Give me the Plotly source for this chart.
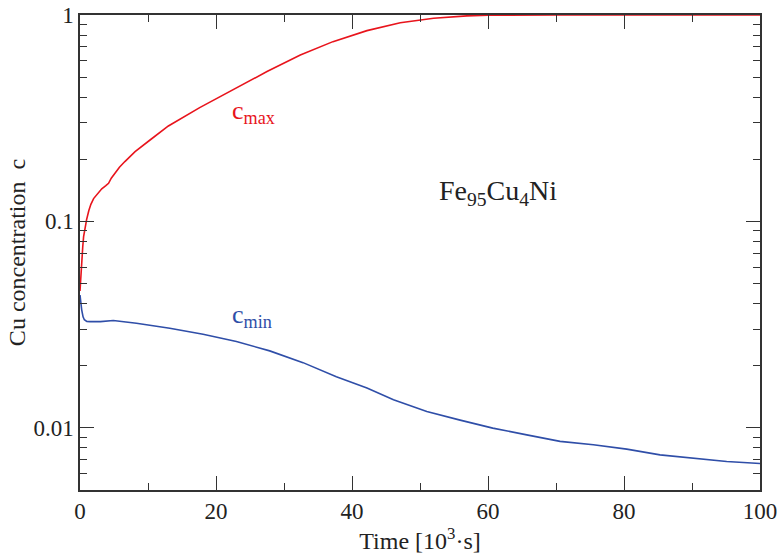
import plotly.graph_objects as go

# Data
t_max = [0, 0.05, 0.15, 0.25, 0.4, 0.53, 0.75, 0.97, 1.3, 1.6, 2.0, 2.6, 3.2, 3.8, 4.2, 4.6,
         5.1, 5.8, 6.6, 8.1, 10.3, 13, 17.6, 22.5, 27.5, 32.4, 37.2, 42.2, 47.1, 52, 56.9,
         60, 65, 70, 80, 90, 100]
c_max = [0.046, 0.05, 0.058, 0.064, 0.075, 0.0844, 0.094, 0.102, 0.113, 0.121, 0.129, 0.137,
         0.144, 0.149, 0.153, 0.162, 0.171, 0.183, 0.195, 0.218, 0.248, 0.29, 0.356, 0.433,
         0.532, 0.64, 0.743, 0.84, 0.918, 0.964, 0.99, 0.997, 1, 1, 1, 1, 1]

t_min = [0, 0.1, 0.25, 0.45, 0.64, 1.0, 1.5, 3, 4.9, 8.3, 13.2, 18.1, 23.0, 27.9, 32.8, 37.7,
         42.2, 46.1, 51.0, 55.9, 60.7, 65.7, 70.6, 75.5, 80.4, 85.3, 90.2, 95.1, 100]
c_min = [0.044, 0.040, 0.0373, 0.0345, 0.0334, 0.0328, 0.0327, 0.0327, 0.0331, 0.0321, 0.0304,
         0.0284, 0.0262, 0.0236, 0.0207, 0.0177, 0.0156, 0.0137, 0.0120, 0.0109, 0.00997,
         0.00925, 0.0086, 0.00828, 0.00789, 0.0074, 0.00713, 0.00687, 0.00672]

x_major = [0, 20, 40, 60, 80, 100]
x_minor = [10, 30, 50, 70, 90]
y_major = [0.01, 0.1, 1]
y_major_text = ["0.01", "0.1", "1"]
y_minor = [0.005, 0.006, 0.007, 0.008, 0.009,
           0.02, 0.03, 0.04, 0.05, 0.06, 0.07, 0.08, 0.09,
           0.2, 0.3, 0.4, 0.5, 0.6, 0.7, 0.8, 0.9]

RED = "#e8141c"
BLUE = "#2f4ea8"
FONT = "Liberation Serif"
TXT = "#222222"

fig = go.Figure()
fig.add_trace(go.Scatter(x=t_max, y=c_max, mode="lines",
                         line=dict(color=RED, width=1.6), showlegend=False))
fig.add_trace(go.Scatter(x=t_min, y=c_min, mode="lines",
                         line=dict(color=BLUE, width=1.6), showlegend=False))

fig.update_layout(
    width=779, height=554,
    margin=dict(l=80, r=19, t=15, b=64),
    paper_bgcolor="white", plot_bgcolor="white",
    font=dict(family=FONT, color=TXT, size=23),
    xaxis=dict(
        range=[0, 100], tickvals=x_major, ticks="inside", ticklen=14, tickwidth=1.2,
        tickcolor="#333", showline=True, linecolor="#333", linewidth=1.5, mirror="ticks",
        showgrid=False, zeroline=False, automargin=False,
        tickfont=dict(size=23, family=FONT, color=TXT),
        minor=dict(tickvals=x_minor, ticks="inside", ticklen=7, tickwidth=1.2, tickcolor="#333",
                   showgrid=False),
        title=dict(text="Time [10<sup>3</sup>·s]", font=dict(size=24, family=FONT, color=TXT),
                   standoff=4),
    ),
    yaxis=dict(
        type="log", range=[-2.30103, 0], tickvals=y_major, ticktext=y_major_text,
        ticks="inside", ticklen=14, tickwidth=1.2, tickcolor="#333",
        showline=True, linecolor="#333", linewidth=1.5, mirror="ticks",
        showgrid=False, zeroline=False, automargin=False,
        tickfont=dict(size=23, family=FONT, color=TXT),
        minor=dict(tickvals=y_minor, ticks="inside", ticklen=7, tickwidth=1.2, tickcolor="#333",
                   showgrid=False),
        title=dict(text="Cu concentration\u00a0 c", font=dict(size=24, family=FONT, color=TXT),
                   standoff=1),
    ),
    annotations=[
        dict(x=52.5, y=-0.862, xref="x", yref="y", text="Fe<sub>95</sub>Cu<sub>4</sub>Ni",
             showarrow=False, xanchor="left", yanchor="middle",
             font=dict(size=28, family=FONT, color=TXT)),
        dict(x=22.1, y=-0.47, xref="x", yref="y", text="c<sub>max</sub>",
             showarrow=False, xanchor="left", yanchor="middle",
             font=dict(size=26, family=FONT, color=RED)),
        dict(x=22.0, y=-1.46, xref="x", yref="y", text="c<sub>min</sub>",
             showarrow=False, xanchor="left", yanchor="middle",
             font=dict(size=26, family=FONT, color=BLUE)),
    ],
)

fig.write_html("out.html")
